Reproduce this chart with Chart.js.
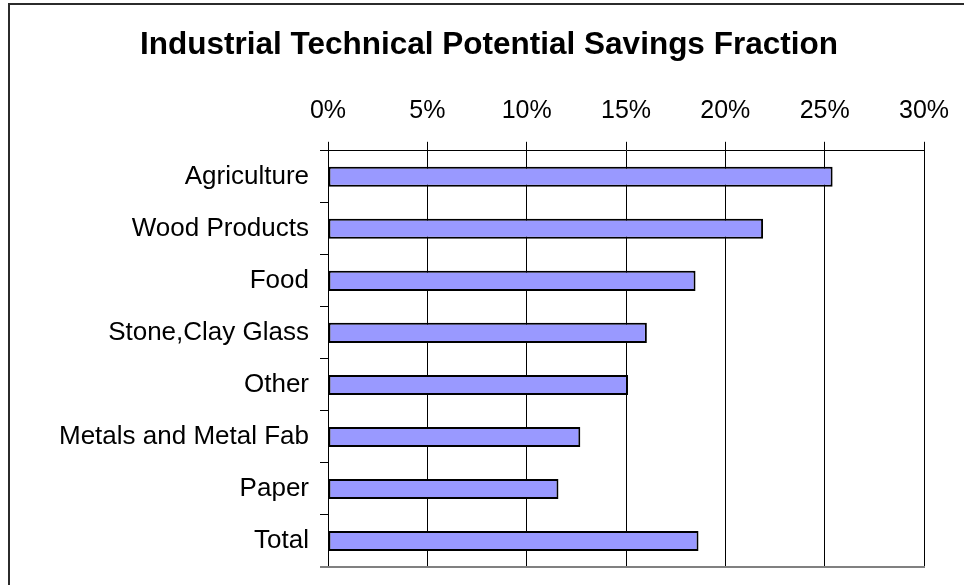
<!DOCTYPE html>
<html>
<head>
<meta charset="utf-8">
<script src="https://cdn.jsdelivr.net/npm/chart.js@4.4.1/dist/chart.umd.min.js"></script>
<style>
    html, body { margin: 0; padding: 0; background: #fff; }
    #wrap { width: 964px; height: 585px; }
</style>
</head>
<body>
<div id="wrap"><canvas id="bar-chart"></canvas></div>
<script>
    // sectors and their savings fraction (percent)
    const sectors = ['Agriculture', 'Wood Products', 'Food', 'Stone,Clay Glass', 'Other', 'Metals and Metal Fab', 'Paper', 'Total'];
    const savings = [25.4, 21.9, 18.5, 16.05, 15.1, 12.7, 11.6, 18.65];
    const tickValues = [0, 5, 10, 15, 20, 25, 30];

    const fontFamily = '"Liberation Sans", Arial, sans-serif';

    // outer frame and grey plot floor
    const framePlugin = {
        id: 'frame',
        beforeDraw(chart) {
            const ctx = chart.ctx;
            ctx.save();
            ctx.fillStyle = '#fff';
            ctx.fillRect(0, 0, chart.width, chart.height);
            ctx.strokeStyle = '#2b2b2b';
            ctx.lineWidth = 2;
            ctx.strokeRect(9, 4, 2000, 2000);
            ctx.restore();
        },
        afterDatasetsDraw(chart) {
            const ctx = chart.ctx;
            const area = chart.chartArea;
            ctx.save();
            ctx.strokeStyle = '#808080';
            ctx.lineWidth = 2;
            ctx.beginPath();
            ctx.moveTo(area.left - 8, area.bottom);
            ctx.lineTo(area.right + 1, area.bottom);
            ctx.stroke();
            ctx.restore();
        }
    };

    const barChartConfig = {
        type: 'bar',
        data: {
            labels: sectors,
            datasets: [{
                data: savings,
                backgroundColor: '#9999FF',
                borderColor: '#000',
                borderWidth: 2,
                borderSkipped: false,
                barPercentage: 0.385,
                categoryPercentage: 1
            }]
        },
        plugins: [framePlugin],
        options: {
            indexAxis: 'y',
            responsive: true,
            maintainAspectRatio: false,
            animation: false,
            layout: {
                padding: { left: 54, right: 40, top: 0, bottom: 18 }
            },
            plugins: {
                legend: { display: false },
                tooltip: { enabled: false },
                title: {
                    display: true,
                    text: 'Industrial Technical Potential Savings Fraction',
                    color: '#000',
                    font: { family: fontFamily, size: 31.5, weight: 'bold' },
                    padding: { top: 26, bottom: 10 }
                }
            },
            scales: {
                x: {
                    position: 'top',
                    min: 0,
                    max: 30,
                    afterBuildTicks: scale => {
                        scale.ticks = tickValues.map(v => ({ value: v }));
                    },
                    afterFit: scale => {
                        scale.height = 77;
                        scale.paddingLeft = 0;
                        scale.paddingRight = 0;
                    },
                    ticks: {
                        color: '#000',
                        padding: 16,
                        maxRotation: 0,
                        font: { family: fontFamily, size: 25 },
                        callback: v => v + '%'
                    },
                    grid: {
                        color: '#000',
                        lineWidth: 1,
                        tickLength: 9,
                        drawTicks: true
                    },
                    border: { display: true, color: '#000', width: 1 }
                },
                y: {
                    afterFit: scale => {
                        scale.width = 274;
                        scale.paddingTop = 0;
                        scale.paddingBottom = 0;
                    },
                    ticks: {
                        color: '#000',
                        padding: 11,
                        font: { family: fontFamily, size: 26 }
                    },
                    grid: {
                        offset: true,
                        drawOnChartArea: false,
                        color: '#000',
                        tickLength: 8
                    },
                    border: { display: true, color: '#000', width: 1 }
                }
            }
        }
    };

    new Chart(document.getElementById('bar-chart').getContext('2d'), barChartConfig);
</script>
</body>
</html>
